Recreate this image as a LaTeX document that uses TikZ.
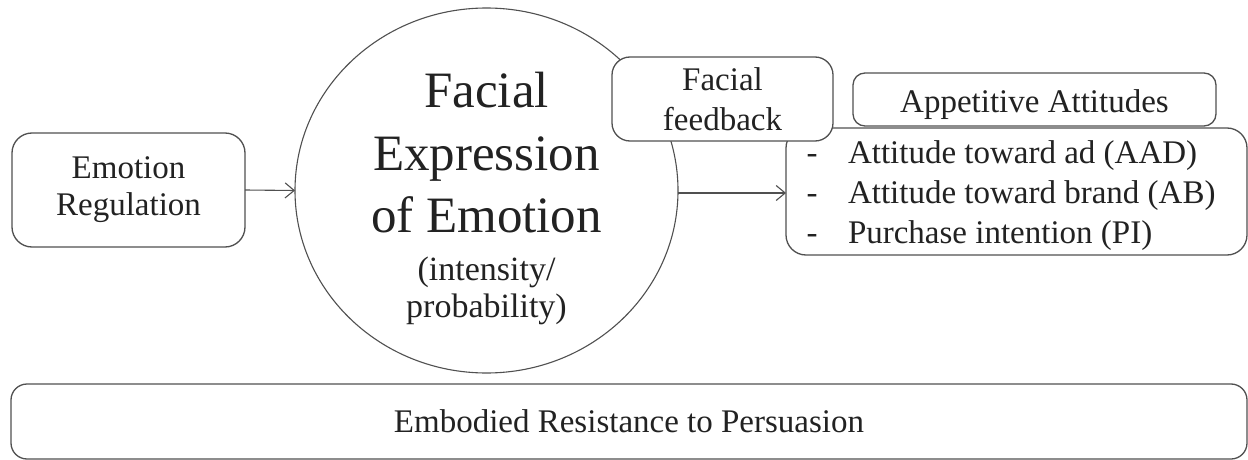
\documentclass[tikz,border=0pt]{standalone}
\usepackage{fontspec}
\setmainfont{Liberation Serif}
\usetikzlibrary{shapes.geometric,arrows.meta}
\definecolor{ln}{HTML}{505050}
\definecolor{tx}{HTML}{222222}
\tikzset{
  rbox/.style={draw=ln, line width=1.3pt, fill=white, rounded corners=#1, inner sep=0pt, outer sep=0pt, align=center, text=tx},
  rbox/.default=18pt,
  txt/.style={inner sep=0pt, outer sep=0pt, text=tx},
  conn/.style={draw=ln, line width=1.1pt, -{Straight Barb[length=9pt,width=15pt,line width=1.1pt]}},
  norm/.style={font=\fontsize{33}{37}\selectfont},
  big/.style={font=\fontsize{51}{63}\selectfont},
  sub/.style={font=\fontsize{34}{37}\selectfont}
}
\begin{document}
\begin{tikzpicture}[x=1pt,y=-1pt]
\path[use as bounding box, fill=white] (0,0) rectangle (1248,460);

% circle
\node[ellipse, draw=ln, line width=1.1pt, minimum width=383pt, minimum height=365pt, inner sep=0pt, outer sep=0pt] (fe) at (486.5,190.5) {};
\node[txt, big, anchor=base] (fe1) at (486.5,107) {Facial};
\node[txt, big, anchor=base] (fe2) at (486.5,170) {Expression};
\node[txt, big, anchor=base] (fe3) at (486.5,232) {of Emotion};
\node[txt, sub, anchor=base] (fe4) at (486.5,280) {(intensity/};
\node[txt, sub, anchor=base] (fe5) at (486.5,317) {probability)};

% emotion regulation
\node[rbox=20pt, norm, minimum width=233pt, minimum height=114pt] (er) at (128.5,190) {Emotion\\Regulation};

% list box
\node[rbox=20pt, minimum width=461pt, minimum height=127pt] (list) at (1016.5,191.5) {};
\node[txt, norm, anchor=base] (d1) at (812,163) {-};
\node[txt, norm, anchor=base] (d2) at (812,203) {-};
\node[txt, norm, anchor=base] (d3) at (812,243) {-};
\node[txt, norm, anchor=base west] (l1) at (848,163) {Attitude toward ad (AAD)};
\node[txt, norm, anchor=base west] (l2) at (848,203) {Attitude toward brand (AB)};
\node[txt, norm, anchor=base west] (l3) at (848,243) {Purchase intention (PI)};

% facial feedback
\node[rbox=18pt, font=\fontsize{33}{40}\selectfont, minimum width=221pt, minimum height=84pt] (ff) at (722.5,99) {Facial\\feedback};

% appetitive attitudes
\node[rbox=12pt, minimum width=363pt, minimum height=53pt] (app) at (1034.5,99.5) {};
\node[txt, norm, anchor=base] (appt) at (1034.5,112) {Appetitive Attitudes};

% bottom
\node[rbox=16pt, norm, minimum width=1236pt, minimum height=75pt] (erp) at (629,421.5) {Embodied Resistance to Persuasion};

% connectors
\draw[conn] (er.east) -- (fe.west);
\draw[conn] (fe.east) ++(0,2.5) coordinate (fa) (fa) -- (fa -| list.west);
\end{tikzpicture}
\end{document}
